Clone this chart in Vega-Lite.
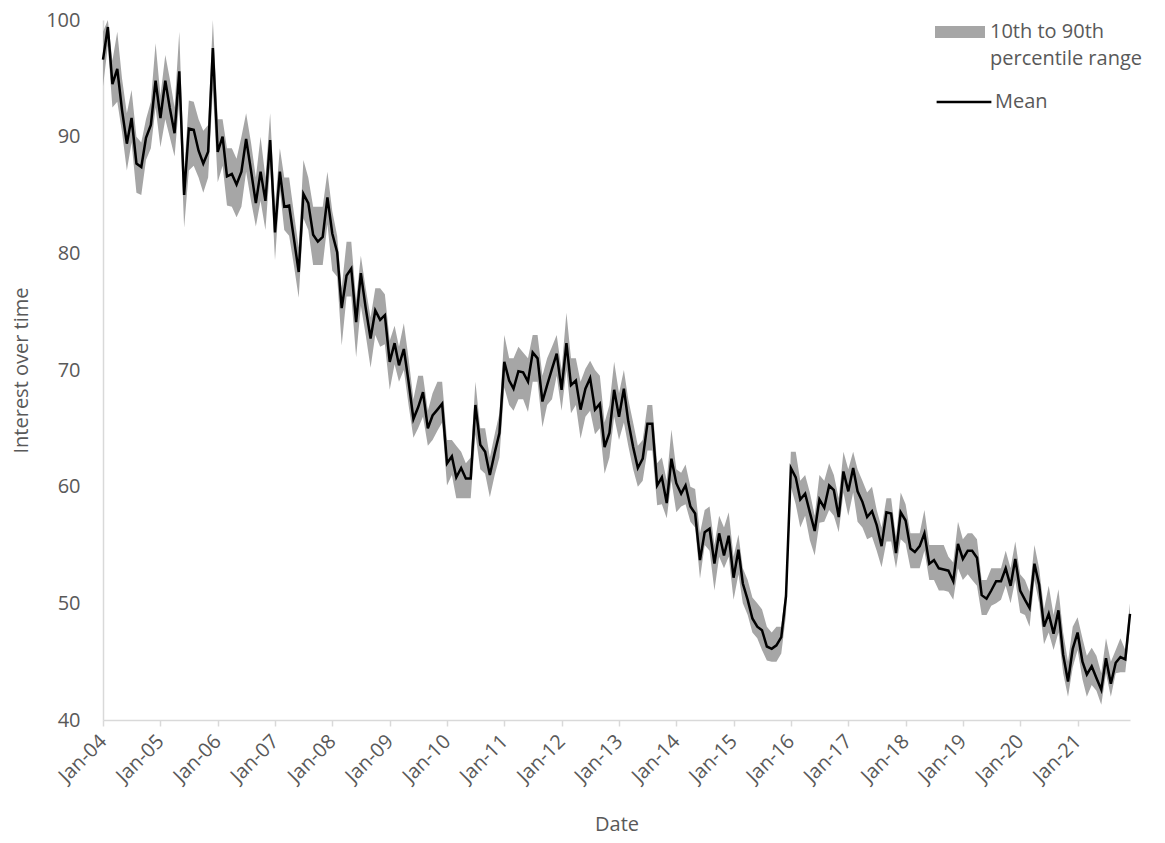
{
  "$schema": "https://vega.github.io/schema/vega-lite/v6.json",
  "width": 1027,
  "height": 700,
  "autosize": {"type": "none"},
  "padding": {"left": 103, "top": 20, "right": 35, "bottom": 123},
  "background": "white",
  "config": {"view": {"stroke": null}, "font": "Open Sans"},
  "data": {"values": [
    {"d":"2004-01-01","m":96.6,"lo":94.3,"hi":99.0},
    {"d":"2004-02-01","m":99.4,"lo":97.8,"hi":100.0},
    {"d":"2004-03-01","m":94.5,"lo":92.5,"hi":96.5},
    {"d":"2004-04-01","m":95.8,"lo":93.0,"hi":99.0},
    {"d":"2004-05-01","m":92.3,"lo":90.4,"hi":95.0},
    {"d":"2004-06-01","m":89.4,"lo":87.1,"hi":92.0},
    {"d":"2004-07-01","m":91.6,"lo":89.5,"hi":94.0},
    {"d":"2004-08-01","m":87.7,"lo":85.2,"hi":90.0},
    {"d":"2004-09-01","m":87.4,"lo":85.0,"hi":89.5},
    {"d":"2004-10-01","m":89.9,"lo":88.0,"hi":91.5},
    {"d":"2004-11-01","m":91.0,"lo":89.0,"hi":93.0},
    {"d":"2004-12-01","m":94.8,"lo":92.5,"hi":98.0},
    {"d":"2005-01-01","m":91.6,"lo":89.1,"hi":93.5},
    {"d":"2005-02-01","m":94.8,"lo":91.5,"hi":97.0},
    {"d":"2005-03-01","m":92.5,"lo":90.0,"hi":95.0},
    {"d":"2005-04-01","m":90.3,"lo":88.3,"hi":92.5},
    {"d":"2005-05-01","m":95.6,"lo":93.0,"hi":99.0},
    {"d":"2005-06-01","m":85.0,"lo":82.2,"hi":87.0},
    {"d":"2005-07-01","m":90.7,"lo":87.1,"hi":93.1},
    {"d":"2005-08-01","m":90.6,"lo":87.5,"hi":93.0},
    {"d":"2005-09-01","m":88.8,"lo":86.5,"hi":91.5},
    {"d":"2005-10-01","m":87.7,"lo":85.2,"hi":90.5},
    {"d":"2005-11-01","m":88.7,"lo":86.5,"hi":91.0},
    {"d":"2005-12-01","m":97.6,"lo":94.0,"hi":100.0},
    {"d":"2006-01-01","m":88.7,"lo":86.1,"hi":91.5},
    {"d":"2006-02-01","m":90.0,"lo":87.5,"hi":91.5},
    {"d":"2006-03-01","m":86.6,"lo":84.1,"hi":89.0},
    {"d":"2006-04-01","m":86.8,"lo":84.0,"hi":89.0},
    {"d":"2006-05-01","m":85.9,"lo":83.1,"hi":88.1},
    {"d":"2006-06-01","m":87.0,"lo":84.0,"hi":90.0},
    {"d":"2006-07-01","m":89.8,"lo":87.0,"hi":92.0},
    {"d":"2006-08-01","m":87.1,"lo":84.5,"hi":89.5},
    {"d":"2006-09-01","m":84.3,"lo":82.3,"hi":86.5},
    {"d":"2006-10-01","m":87.0,"lo":84.5,"hi":90.0},
    {"d":"2006-11-01","m":84.5,"lo":82.0,"hi":86.5},
    {"d":"2006-12-01","m":89.7,"lo":87.5,"hi":92.0},
    {"d":"2007-01-01","m":81.8,"lo":79.4,"hi":84.0},
    {"d":"2007-02-01","m":87.0,"lo":85.5,"hi":89.0},
    {"d":"2007-03-01","m":84.0,"lo":82.0,"hi":86.5},
    {"d":"2007-04-01","m":84.1,"lo":81.5,"hi":86.5},
    {"d":"2007-05-01","m":81.3,"lo":79.0,"hi":83.5},
    {"d":"2007-06-01","m":78.4,"lo":76.2,"hi":80.5},
    {"d":"2007-07-01","m":85.1,"lo":83.0,"hi":88.0},
    {"d":"2007-08-01","m":84.3,"lo":82.0,"hi":86.5},
    {"d":"2007-09-01","m":81.6,"lo":79.0,"hi":84.0},
    {"d":"2007-10-01","m":81.0,"lo":79.0,"hi":84.0},
    {"d":"2007-11-01","m":81.4,"lo":79.0,"hi":84.0},
    {"d":"2007-12-01","m":84.8,"lo":82.5,"hi":87.0},
    {"d":"2008-01-01","m":81.7,"lo":78.5,"hi":83.6},
    {"d":"2008-02-01","m":80.1,"lo":78.0,"hi":81.5},
    {"d":"2008-03-01","m":75.3,"lo":72.1,"hi":77.0},
    {"d":"2008-04-01","m":78.1,"lo":76.3,"hi":81.0},
    {"d":"2008-05-01","m":78.7,"lo":76.3,"hi":81.0},
    {"d":"2008-06-01","m":74.1,"lo":71.1,"hi":76.0},
    {"d":"2008-07-01","m":78.3,"lo":75.5,"hi":79.8},
    {"d":"2008-08-01","m":75.3,"lo":73.0,"hi":77.0},
    {"d":"2008-09-01","m":72.7,"lo":70.2,"hi":74.5},
    {"d":"2008-10-01","m":75.1,"lo":73.0,"hi":77.0},
    {"d":"2008-11-01","m":74.3,"lo":72.0,"hi":77.0},
    {"d":"2008-12-01","m":74.7,"lo":72.2,"hi":76.5},
    {"d":"2009-01-01","m":70.7,"lo":68.3,"hi":72.5},
    {"d":"2009-02-01","m":72.3,"lo":70.5,"hi":73.8},
    {"d":"2009-03-01","m":70.4,"lo":69.0,"hi":72.0},
    {"d":"2009-04-01","m":71.8,"lo":70.0,"hi":74.0},
    {"d":"2009-05-01","m":69.0,"lo":67.0,"hi":71.0},
    {"d":"2009-06-01","m":65.8,"lo":64.2,"hi":67.5},
    {"d":"2009-07-01","m":66.8,"lo":65.0,"hi":69.5},
    {"d":"2009-08-01","m":68.1,"lo":66.0,"hi":69.5},
    {"d":"2009-09-01","m":65.0,"lo":63.5,"hi":66.5},
    {"d":"2009-10-01","m":66.1,"lo":64.0,"hi":68.0},
    {"d":"2009-11-01","m":66.6,"lo":64.8,"hi":69.0},
    {"d":"2009-12-01","m":67.1,"lo":65.5,"hi":69.0},
    {"d":"2010-01-01","m":62.0,"lo":60.1,"hi":64.0},
    {"d":"2010-02-01","m":62.6,"lo":61.0,"hi":64.0},
    {"d":"2010-03-01","m":60.8,"lo":59.0,"hi":63.5},
    {"d":"2010-04-01","m":61.6,"lo":59.0,"hi":63.0},
    {"d":"2010-05-01","m":60.7,"lo":59.0,"hi":62.0},
    {"d":"2010-06-01","m":60.7,"lo":59.0,"hi":62.5},
    {"d":"2010-07-01","m":67.0,"lo":64.5,"hi":69.0},
    {"d":"2010-08-01","m":63.6,"lo":61.5,"hi":65.0},
    {"d":"2010-09-01","m":63.0,"lo":61.1,"hi":65.0},
    {"d":"2010-10-01","m":61.0,"lo":59.1,"hi":62.5},
    {"d":"2010-11-01","m":62.9,"lo":61.0,"hi":64.5},
    {"d":"2010-12-01","m":64.6,"lo":62.5,"hi":66.3},
    {"d":"2011-01-01","m":70.7,"lo":68.5,"hi":73.0},
    {"d":"2011-02-01","m":69.1,"lo":67.0,"hi":71.0},
    {"d":"2011-03-01","m":68.4,"lo":66.5,"hi":71.0},
    {"d":"2011-04-01","m":69.9,"lo":67.5,"hi":72.0},
    {"d":"2011-05-01","m":69.8,"lo":67.5,"hi":71.5},
    {"d":"2011-06-01","m":69.0,"lo":66.4,"hi":71.0},
    {"d":"2011-07-01","m":71.5,"lo":69.0,"hi":73.0},
    {"d":"2011-08-01","m":71.0,"lo":69.0,"hi":73.0},
    {"d":"2011-09-01","m":67.3,"lo":65.1,"hi":69.5},
    {"d":"2011-10-01","m":68.7,"lo":67.0,"hi":71.0},
    {"d":"2011-11-01","m":70.1,"lo":67.5,"hi":72.0},
    {"d":"2011-12-01","m":71.4,"lo":69.5,"hi":73.0},
    {"d":"2012-01-01","m":68.3,"lo":66.5,"hi":70.0},
    {"d":"2012-02-01","m":72.3,"lo":70.0,"hi":74.9},
    {"d":"2012-03-01","m":68.7,"lo":66.3,"hi":71.0},
    {"d":"2012-04-01","m":69.1,"lo":67.0,"hi":71.0},
    {"d":"2012-05-01","m":66.6,"lo":64.1,"hi":69.0},
    {"d":"2012-06-01","m":68.4,"lo":66.0,"hi":70.1},
    {"d":"2012-07-01","m":69.3,"lo":66.5,"hi":70.8},
    {"d":"2012-08-01","m":66.6,"lo":64.5,"hi":70.0},
    {"d":"2012-09-01","m":67.1,"lo":65.0,"hi":69.5},
    {"d":"2012-10-01","m":63.4,"lo":61.1,"hi":65.5},
    {"d":"2012-11-01","m":64.6,"lo":62.5,"hi":67.0},
    {"d":"2012-12-01","m":68.3,"lo":66.0,"hi":70.7},
    {"d":"2013-01-01","m":66.0,"lo":64.0,"hi":68.0},
    {"d":"2013-02-01","m":68.4,"lo":65.5,"hi":70.0},
    {"d":"2013-03-01","m":65.6,"lo":63.5,"hi":67.5},
    {"d":"2013-04-01","m":63.4,"lo":61.5,"hi":65.5},
    {"d":"2013-05-01","m":61.6,"lo":60.0,"hi":63.5},
    {"d":"2013-06-01","m":62.4,"lo":60.5,"hi":64.0},
    {"d":"2013-07-01","m":65.4,"lo":63.1,"hi":67.0},
    {"d":"2013-08-01","m":65.4,"lo":63.1,"hi":67.0},
    {"d":"2013-09-01","m":60.1,"lo":58.4,"hi":62.0},
    {"d":"2013-10-01","m":60.8,"lo":58.5,"hi":62.5},
    {"d":"2013-11-01","m":58.6,"lo":57.3,"hi":60.5},
    {"d":"2013-12-01","m":62.4,"lo":60.5,"hi":64.9},
    {"d":"2014-01-01","m":60.3,"lo":57.8,"hi":61.5},
    {"d":"2014-02-01","m":59.4,"lo":58.3,"hi":61.2},
    {"d":"2014-03-01","m":60.1,"lo":58.5,"hi":61.9},
    {"d":"2014-04-01","m":58.3,"lo":57.0,"hi":60.0},
    {"d":"2014-05-01","m":57.7,"lo":56.5,"hi":59.8},
    {"d":"2014-06-01","m":53.7,"lo":52.1,"hi":56.0},
    {"d":"2014-07-01","m":56.1,"lo":55.0,"hi":58.0},
    {"d":"2014-08-01","m":56.4,"lo":54.5,"hi":58.3},
    {"d":"2014-09-01","m":53.4,"lo":51.1,"hi":55.0},
    {"d":"2014-10-01","m":56.0,"lo":54.0,"hi":57.5},
    {"d":"2014-11-01","m":54.1,"lo":53.0,"hi":56.5},
    {"d":"2014-12-01","m":55.8,"lo":54.0,"hi":57.8},
    {"d":"2015-01-01","m":52.2,"lo":50.3,"hi":54.0},
    {"d":"2015-02-01","m":54.6,"lo":52.5,"hi":55.9},
    {"d":"2015-03-01","m":51.7,"lo":50.0,"hi":53.0},
    {"d":"2015-04-01","m":50.3,"lo":49.0,"hi":52.0},
    {"d":"2015-05-01","m":48.7,"lo":47.5,"hi":50.5},
    {"d":"2015-06-01","m":48.0,"lo":47.0,"hi":50.0},
    {"d":"2015-07-01","m":47.7,"lo":46.0,"hi":49.5},
    {"d":"2015-08-01","m":46.3,"lo":45.1,"hi":48.0},
    {"d":"2015-09-01","m":46.1,"lo":45.0,"hi":47.5},
    {"d":"2015-10-01","m":46.4,"lo":45.0,"hi":48.0},
    {"d":"2015-11-01","m":47.1,"lo":45.7,"hi":48.0},
    {"d":"2015-12-01","m":50.6,"lo":49.0,"hi":51.5},
    {"d":"2016-01-01","m":61.6,"lo":60.0,"hi":63.0},
    {"d":"2016-02-01","m":60.8,"lo":58.5,"hi":63.0},
    {"d":"2016-03-01","m":58.9,"lo":56.5,"hi":60.5},
    {"d":"2016-04-01","m":59.4,"lo":57.5,"hi":61.0},
    {"d":"2016-05-01","m":57.8,"lo":55.4,"hi":59.5},
    {"d":"2016-06-01","m":56.2,"lo":54.1,"hi":57.5},
    {"d":"2016-07-01","m":58.9,"lo":56.9,"hi":61.0},
    {"d":"2016-08-01","m":58.2,"lo":57.0,"hi":60.5},
    {"d":"2016-09-01","m":60.1,"lo":58.0,"hi":62.0},
    {"d":"2016-10-01","m":59.7,"lo":57.5,"hi":61.0},
    {"d":"2016-11-01","m":57.4,"lo":56.1,"hi":59.0},
    {"d":"2016-12-01","m":61.3,"lo":59.5,"hi":63.0},
    {"d":"2017-01-01","m":59.6,"lo":57.5,"hi":61.5},
    {"d":"2017-02-01","m":61.6,"lo":59.5,"hi":63.0},
    {"d":"2017-03-01","m":59.6,"lo":57.0,"hi":61.5},
    {"d":"2017-04-01","m":58.7,"lo":56.5,"hi":60.5},
    {"d":"2017-05-01","m":57.4,"lo":55.5,"hi":59.5},
    {"d":"2017-06-01","m":57.9,"lo":55.7,"hi":60.0},
    {"d":"2017-07-01","m":56.7,"lo":54.5,"hi":58.0},
    {"d":"2017-08-01","m":54.9,"lo":53.1,"hi":56.5},
    {"d":"2017-09-01","m":57.8,"lo":55.3,"hi":59.0},
    {"d":"2017-10-01","m":57.7,"lo":55.3,"hi":59.0},
    {"d":"2017-11-01","m":54.3,"lo":53.0,"hi":55.7},
    {"d":"2017-12-01","m":57.8,"lo":55.5,"hi":59.5},
    {"d":"2018-01-01","m":57.1,"lo":55.1,"hi":58.5},
    {"d":"2018-02-01","m":54.7,"lo":53.0,"hi":56.0},
    {"d":"2018-03-01","m":54.4,"lo":53.0,"hi":56.0},
    {"d":"2018-04-01","m":54.9,"lo":53.0,"hi":56.0},
    {"d":"2018-05-01","m":56.0,"lo":54.5,"hi":58.0},
    {"d":"2018-06-01","m":53.4,"lo":52.0,"hi":55.0},
    {"d":"2018-07-01","m":53.7,"lo":52.0,"hi":55.0},
    {"d":"2018-08-01","m":53.0,"lo":51.1,"hi":55.0},
    {"d":"2018-09-01","m":52.9,"lo":51.1,"hi":55.0},
    {"d":"2018-10-01","m":52.8,"lo":51.0,"hi":54.0},
    {"d":"2018-11-01","m":51.9,"lo":50.3,"hi":53.5},
    {"d":"2018-12-01","m":55.1,"lo":53.0,"hi":57.0},
    {"d":"2019-01-01","m":53.8,"lo":52.0,"hi":55.5},
    {"d":"2019-02-01","m":54.5,"lo":52.5,"hi":56.0},
    {"d":"2019-03-01","m":54.5,"lo":52.0,"hi":56.0},
    {"d":"2019-04-01","m":53.9,"lo":51.5,"hi":55.5},
    {"d":"2019-05-01","m":50.7,"lo":49.0,"hi":52.0},
    {"d":"2019-06-01","m":50.4,"lo":49.0,"hi":52.0},
    {"d":"2019-07-01","m":51.1,"lo":49.8,"hi":53.0},
    {"d":"2019-08-01","m":51.9,"lo":50.0,"hi":53.0},
    {"d":"2019-09-01","m":51.9,"lo":50.3,"hi":53.0},
    {"d":"2019-10-01","m":53.0,"lo":51.5,"hi":54.5},
    {"d":"2019-11-01","m":51.5,"lo":50.0,"hi":53.0},
    {"d":"2019-12-01","m":53.8,"lo":52.0,"hi":55.3},
    {"d":"2020-01-01","m":51.1,"lo":49.2,"hi":52.5},
    {"d":"2020-02-01","m":50.3,"lo":49.0,"hi":52.0},
    {"d":"2020-03-01","m":49.6,"lo":48.0,"hi":51.0},
    {"d":"2020-04-01","m":53.4,"lo":52.0,"hi":55.0},
    {"d":"2020-05-01","m":51.6,"lo":50.0,"hi":53.0},
    {"d":"2020-06-01","m":48.0,"lo":46.5,"hi":49.5},
    {"d":"2020-07-01","m":49.1,"lo":47.5,"hi":51.5},
    {"d":"2020-08-01","m":47.4,"lo":46.0,"hi":49.0},
    {"d":"2020-09-01","m":49.4,"lo":47.5,"hi":51.2},
    {"d":"2020-10-01","m":45.6,"lo":44.0,"hi":47.5},
    {"d":"2020-11-01","m":43.3,"lo":42.0,"hi":45.0},
    {"d":"2020-12-01","m":46.1,"lo":44.5,"hi":48.0},
    {"d":"2021-01-01","m":47.5,"lo":46.0,"hi":48.8},
    {"d":"2021-02-01","m":45.0,"lo":43.5,"hi":47.0},
    {"d":"2021-03-01","m":43.9,"lo":42.0,"hi":45.5},
    {"d":"2021-04-01","m":44.6,"lo":43.0,"hi":46.2},
    {"d":"2021-05-01","m":43.6,"lo":42.5,"hi":45.5},
    {"d":"2021-06-01","m":42.6,"lo":41.3,"hi":44.0},
    {"d":"2021-07-01","m":45.3,"lo":44.0,"hi":47.0},
    {"d":"2021-08-01","m":43.1,"lo":42.0,"hi":45.0},
    {"d":"2021-09-01","m":44.9,"lo":44.0,"hi":46.0},
    {"d":"2021-10-01","m":45.4,"lo":44.1,"hi":47.0},
    {"d":"2021-11-01","m":45.2,"lo":44.1,"hi":46.0},
    {"d":"2021-12-01","m":49.1,"lo":48.0,"hi":50.0}
  ]},
  "encoding": {
    "x": {
      "field": "d",
      "type": "temporal",
      "scale": {
        "type": "utc",
        "nice": false,
        "domain": [
          {"year": 2004, "month": 1, "date": 1, "utc": true},
          {"year": 2021, "month": 12, "date": 1, "utc": true}
        ]
      },
      "axis": {
        "title": "Date",
        "labelExpr": "utcFormat(datum.value, '%b-%y')",
        "tickCount": {"interval": "year", "step": 1},
        "grid": false,
        "domainColor": "#d9d9d9",
        "domainWidth": 1.5,
        "tickColor": "#d9d9d9",
        "tickWidth": 1.5,
        "tickSize": 6,
        "labelAngle": -45,
        "labelAlign": "right",
        "labelBaseline": "middle",
        "labelPadding": 12,
        "labelFontSize": 20,
        "labelColor": "#595959",
        "labelFont": "Open Sans",
        "labelOverlap": false,
        "labelFlush": false,
        "titleFontSize": 20,
        "titleColor": "#595959",
        "titleFont": "Open Sans",
        "titleFontWeight": "normal",
        "titlePadding": 28
      }
    }
  },
  "layer": [
    {
      "mark": {"type": "area", "opacity": 1},
      "encoding": {
        "y": {
          "field": "lo",
          "type": "quantitative",
          "scale": {"domain": [40, 100], "nice": false, "zero": false},
          "axis": {
            "title": "Interest over time",
            "values": [40, 50, 60, 70, 80, 90, 100],
            "grid": false,
            "ticks": false,
            "domainColor": "#d9d9d9",
            "domainWidth": 1.5,
            "labelPadding": 23,
            "labelFontSize": 20,
            "labelColor": "#595959",
            "labelFont": "Open Sans",
            "titleFontSize": 20,
            "titleColor": "#595959",
            "titleFont": "Open Sans",
            "titleFontWeight": "normal",
            "titlePadding": 14
          }
        },
        "y2": {"field": "hi"},
        "fill": {
          "datum": "10th to 90th percentile range",
          "type": "nominal",
          "scale": {"range": ["#a6a6a6"]},
          "legend": {
            "title": null,
            "orient": "none",
            "legendX": 832,
            "legendY": -13,
            "padding": 0,
            "symbolType": "M-1,-0.24H1V0.24H-1Z",
            "symbolSize": 2500,
            "symbolStrokeWidth": 0,
            "labelExpr": "['10th to 90th', 'percentile range']",
            "labelFontSize": 20,
            "labelColor": "#595959",
            "labelFont": "Open Sans",
            "labelLimit": 400,
            "labelOffset": 5,
            "labelBaseline": "middle",
            "encoding": {"labels": {"lineHeight": {"value": 27}}}
          }
        }
      }
    },
    {
      "mark": {"type": "line", "strokeWidth": 2.5, "color": "black"},
      "encoding": {
        "y": {"field": "m", "type": "quantitative"},
        "stroke": {
          "datum": "Mean",
          "type": "nominal",
          "scale": {"range": ["black"]},
          "legend": {
            "title": null,
            "orient": "none",
            "legendX": 832,
            "legendY": 53,
            "padding": 0,
            "symbolType": "stroke",
            "symbolSize": 3000,
            "symbolStrokeWidth": 2.5,
            "labelFontSize": 20,
            "labelColor": "#595959",
            "labelFont": "Open Sans",
            "labelLimit": 400,
            "labelOffset": 2,
            "labelBaseline": "middle"
          }
        }
      }
    }
  ]
}
